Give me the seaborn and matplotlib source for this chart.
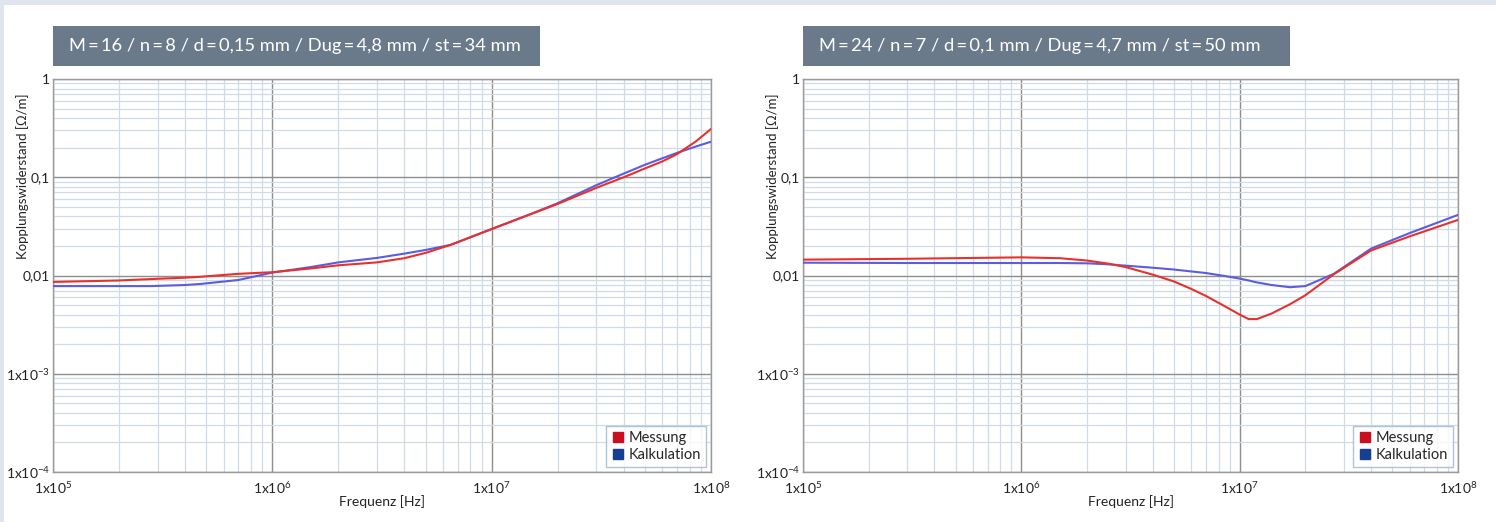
import numpy as np
import pandas as pd
import matplotlib
matplotlib.use("Agg")
import matplotlib.pyplot as plt
from matplotlib.lines import Line2D
from matplotlib.patches import Rectangle
from matplotlib.ticker import FixedLocator, LogLocator, NullFormatter
import seaborn as sns

# ---- data (Hz, Ohm/m) ----
freq_left = [1e5, 2e5, 2.8e5, 4e5, 4.7e5, 7e5, 1e6, 1.5e6, 2e6, 3e6, 4e6, 5e6,
             6.5e6, 1e7, 1.5e7, 2e7, 3e7, 4e7, 5e7, 6e7, 7e7, 8.5e7, 1e8]
mess_left = [0.0086, 0.0089, 0.0092, 0.0095, 0.0097, 0.0104, 0.0108, 0.0118, 0.0127,
             0.0136, 0.0150, 0.0170, 0.0205, 0.0297, 0.0420, 0.0535, 0.0780, 0.1000,
             0.1230, 0.1450, 0.1720, 0.2300, 0.3100]
kalk_left = [0.0078, 0.0078, 0.0078, 0.0080, 0.0082, 0.0090, 0.0107, 0.0122, 0.0136,
             0.0151, 0.0167, 0.0182, 0.0205, 0.0297, 0.0420, 0.0545, 0.0830, 0.1090,
             0.1340, 0.1560, 0.1770, 0.2050, 0.2300]

freq_right = [1e5, 3e5, 1e6, 1.5e6, 2e6, 2.5e6, 3e6, 4e6, 5e6, 6e6, 7e6, 8.5e6, 1e7,
              1.1e7, 1.2e7, 1.4e7, 1.7e7, 2e7, 2.7e7, 4e7, 6e7, 1e8]
mess_right = [0.0145, 0.0148, 0.0153, 0.0150, 0.0142, 0.0132, 0.0122, 0.0102, 0.0087,
              0.0073, 0.0062, 0.0049, 0.0040, 0.0036, 0.0036, 0.0041, 0.0051, 0.0063,
              0.0103, 0.0180, 0.0250, 0.0368]
kalk_right = [0.0135, 0.0134, 0.0134, 0.0134, 0.0133, 0.0130, 0.0126, 0.0120, 0.0115,
              0.0110, 0.0106, 0.0099, 0.0093, 0.0089, 0.0085, 0.0080, 0.0076, 0.0078,
              0.0104, 0.0188, 0.0270, 0.0414]

T = "\u2009"  # narrow space around the "=" signs, as in the reference
titles = [f"M{T}={T}16 / n{T}={T}8 / d{T}={T}0,15 mm / Dug{T}={T}4,8 mm / st{T}={T}34 mm",
          f"M{T}={T}24 / n{T}={T}7 / d{T}={T}0,1 mm / Dug{T}={T}4,7 mm / st{T}={T}50 mm"]
series = ["Messung", "Kalkulation"]
x_ticks = [1e5, 1e6, 1e7, 1e8]
x_ticklabels = [r"1x10$^{5}$", r"1x10$^{6}$", r"1x10$^{7}$", r"1x10$^{8}$"]
y_ticks = [1e-4, 1e-3, 1e-2, 1e-1, 1]
y_ticklabels = [r"1x10$^{-4}$", r"1x10$^{-3}$", "0,01", "0,1", "1"]

line_colors = {"Messung": "#e8312c", "Kalkulation": "#5c5ce0"}
legend_colors = {"Messung": "#c8101e", "Kalkulation": "#173f8f"}

sns.set_theme(style="white")
plt.rcParams["font.family"] = ["Lato", "DejaVu Sans"]
plt.rcParams["mathtext.default"] = "regular"

fig = plt.figure(figsize=(14.96, 5.22), dpi=100, facecolor="#dfe5ec")
fig.patches.append(Rectangle((4 / 1496, 0), 1, 1 - 5 / 522, transform=fig.transFigure,
                             facecolor="white", edgecolor="none", zorder=-5))

panels = [
    (freq_left, mess_left, kalk_left, 53, 658),
    (freq_right, mess_right, kalk_right, 803, 655),
]

for i, (fr, mess, kalk, x0, w) in enumerate(panels):
    ax = fig.add_axes([x0 / 1496, 50 / 522, w / 1496, 393 / 522], zorder=2)
    ax.patch.set_alpha(0)
    df = pd.concat([
        pd.DataFrame({"f": fr, "v": mess, "Serie": "Messung"}),
        pd.DataFrame({"f": fr, "v": kalk, "Serie": "Kalkulation"}),
    ])
    sns.lineplot(data=df, x="f", y="v", hue="Serie", hue_order=["Kalkulation", "Messung"],
                 palette=line_colors, lw=1.5, ax=ax, legend=False, zorder=3)
    ax.set_xscale("log")
    ax.set_yscale("log")
    ax.set_xlim(1e5, 1e8)
    ax.set_ylim(1e-4, 1)

    ax.xaxis.set_major_locator(FixedLocator(x_ticks))
    ax.set_xticklabels(x_ticklabels)
    ax.yaxis.set_major_locator(FixedLocator(y_ticks))
    ax.set_yticklabels(y_ticklabels)
    ax.xaxis.set_minor_locator(LogLocator(base=10, subs=np.arange(2, 10)))
    ax.yaxis.set_minor_locator(LogLocator(base=10, subs=np.arange(2, 10)))
    ax.xaxis.set_minor_formatter(NullFormatter())
    ax.yaxis.set_minor_formatter(NullFormatter())
    ax.tick_params(which="both", length=0, labelsize=10, colors="#222222")
    ax.tick_params(axis="x", pad=6)
    ax.tick_params(axis="y", pad=2)

    ax.grid(which="minor", color="#cfdbe6", lw=0.9)
    ax.grid(which="major", color="#8e8e8e", lw=1.0)
    ax.set_axisbelow(True)
    for sp in ax.spines.values():
        sp.set_color("#9a9a9a")
        sp.set_linewidth(1.0)

    ax.set_xlabel("Frequenz [Hz]", fontsize=10, color="#222222", labelpad=-1)
    ax.set_ylabel("Kopplungswiderstand [Ω/m]", fontsize=9.5, color="#222222")
    ax.yaxis.set_label_coords(-0.037, 0.753)

    handles = [Line2D([], [], marker="s", ls="", markersize=7,
                      color=legend_colors[s], label=s) for s in series]
    leg = ax.legend(handles=handles, loc="lower right", fontsize=10.5, frameon=True,
                    fancybox=False, handletextpad=0.2, handlelength=1.0,
                    borderpad=0.35, labelspacing=0.2, borderaxespad=0.35)
    leg.get_frame().set_edgecolor("#9fb4cf")
    leg.get_frame().set_linewidth(1.0)

    # title box above each chart
    fig.patches.append(Rectangle((x0 / 1496, 456 / 522), 487 / 1496, 40 / 522,
                                 transform=fig.transFigure, facecolor="#6b7a8b",
                                 edgecolor="none", zorder=1))
    fig.text((x0 + 16) / 1496, 476 / 522, titles[i], color="white", fontsize=13.2,
             va="center", ha="left", zorder=2)

fig.savefig("out.png", dpi=100, facecolor=fig.get_facecolor())
